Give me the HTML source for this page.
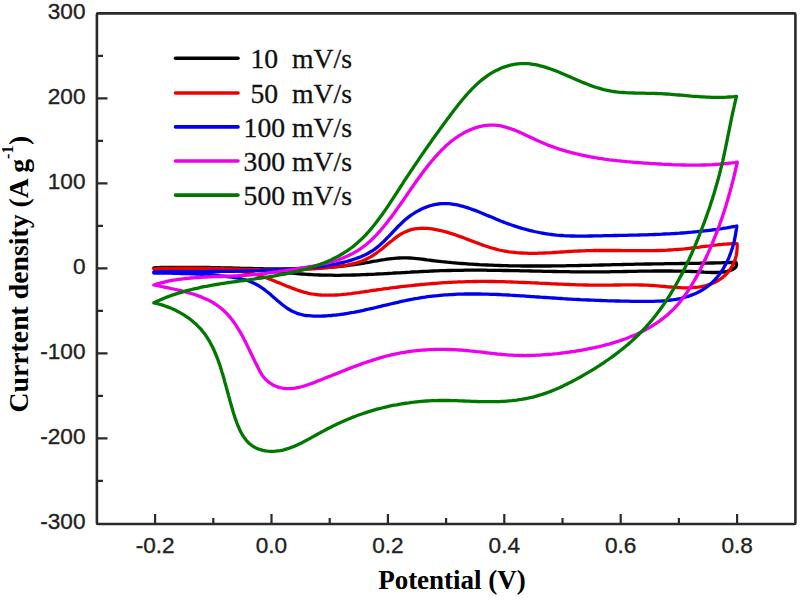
<!DOCTYPE html>
<html><head><meta charset="utf-8"><style>
html,body{margin:0;padding:0;background:#fff;width:800px;height:600px;overflow:hidden}
svg{display:block}
.tl{font-family:"Liberation Sans",sans-serif;font-size:22.6px;fill:#222;stroke:#222;stroke-width:0.35px}
.lg{font-family:"Liberation Serif",serif;font-size:27.7px;fill:#111;stroke:#111;stroke-width:0.3px}
.ax{font-family:"Liberation Serif",serif;font-size:27px;font-weight:bold;fill:#000}
</style></head><body>
<svg width="800" height="600" viewBox="0 0 800 600">
<rect width="800" height="600" fill="#fff"/>
<g fill="none" stroke-width="3.3" stroke-linejoin="round" stroke-linecap="round">
<path d="M153.8,267.8L156.3,267.7L158.8,267.6L161.3,267.5L163.8,267.5L166.3,267.4L168.8,267.4L171.3,267.3L173.9,267.3L176.4,267.3L178.9,267.3L181.4,267.3L183.9,267.3L186.4,267.3L188.9,267.3L191.5,267.3L194.0,267.3L196.5,267.3L199.0,267.4L201.5,267.4L204.0,267.4L206.5,267.5L209.1,267.5L211.6,267.6L214.1,267.6L216.6,267.7L219.1,267.7L221.6,267.8L224.1,267.9L226.7,267.9L229.2,268.0L231.7,268.0L234.2,268.1L236.7,268.2L239.2,268.2L241.7,268.3L244.3,268.4L246.8,268.4L249.3,268.5L251.8,268.5L254.3,268.6L256.8,268.6L259.3,268.7L261.9,268.7L264.4,268.8L266.9,268.8L269.4,268.8L271.9,268.9L274.4,268.9L276.9,268.9L279.5,268.9L282.0,268.9L284.5,268.9L287.0,268.9L289.5,268.9L292.0,268.9L294.5,268.8L297.1,268.8L299.6,268.8L302.1,268.7L304.6,268.6L307.1,268.6L309.6,268.5L312.1,268.4L314.6,268.3L317.2,268.1L319.7,268.0L322.2,267.8L324.7,267.7L327.2,267.5L329.7,267.3L332.2,267.1L334.7,266.9L337.2,266.7L339.7,266.4L342.2,266.1L344.7,265.9L347.2,265.6L349.7,265.2L352.2,264.9L354.7,264.6L357.2,264.2L359.7,263.8L362.1,263.4L364.6,263.0L367.1,262.5L369.6,262.1L372.1,261.6L374.5,261.2L377.0,260.8L379.5,260.3L382.0,259.9L384.4,259.6L386.9,259.2L389.4,258.9L391.9,258.6L394.4,258.4L396.9,258.2L399.4,258.0L402.0,257.9L404.5,257.9L407.0,257.9L409.5,258.0L412.0,258.2L414.5,258.4L417.0,258.6L419.5,258.9L422.0,259.2L424.5,259.5L427.0,259.9L429.5,260.2L432.0,260.5L434.5,260.8L437.0,261.1L439.5,261.4L442.0,261.7L444.5,261.9L447.0,262.2L449.5,262.4L452.0,262.7L454.5,262.9L457.0,263.1L459.5,263.3L462.0,263.5L464.5,263.7L467.0,263.9L469.5,264.1L472.0,264.2L474.6,264.4L477.1,264.5L479.6,264.7L482.1,264.8L484.6,264.9L487.1,265.0L489.6,265.1L492.1,265.2L494.6,265.3L497.2,265.4L499.7,265.5L502.2,265.6L504.7,265.7L507.2,265.7L509.7,265.8L512.2,265.8L514.8,265.9L517.3,265.9L519.8,265.9L522.3,266.0L524.8,266.0L527.3,266.0L529.8,266.0L532.4,266.0L534.9,266.0L537.4,266.0L539.9,266.0L542.4,266.0L544.9,266.0L547.4,266.0L550.0,266.0L552.5,265.9L555.0,265.9L557.5,265.9L560.0,265.9L562.5,265.8L565.0,265.8L567.6,265.7L570.1,265.7L572.6,265.7L575.1,265.6L577.6,265.6L580.1,265.5L582.6,265.4L585.2,265.4L587.7,265.3L590.2,265.3L592.7,265.2L595.2,265.2L597.7,265.1L600.2,265.0L602.8,265.0L605.3,264.9L607.8,264.9L610.3,264.8L612.8,264.7L615.3,264.7L617.8,264.6L620.4,264.6L622.9,264.5L625.4,264.4L627.9,264.4L630.4,264.3L632.9,264.3L635.4,264.2L638.0,264.2L640.5,264.1L643.0,264.1L645.5,264.0L648.0,264.0L650.5,264.0L653.0,263.9L655.5,263.9L658.1,263.8L660.6,263.8L663.1,263.8L665.6,263.7L668.1,263.7L670.6,263.7L673.1,263.6L675.7,263.6L678.2,263.6L680.7,263.5L683.2,263.5L685.7,263.4L688.2,263.4L690.7,263.4L693.3,263.3L695.8,263.3L698.3,263.3L700.8,263.2L703.3,263.2L705.8,263.1L708.3,263.1L710.9,263.0L713.4,263.0L715.9,262.9L718.4,262.9L720.9,262.8L723.4,262.7L725.9,262.7L728.5,262.6L731.0,262.5L733.5,262.5L736.0,262.4L736.0,262.4L736.6,264.8L735.8,267.2L733.9,268.8L731.7,269.9L729.3,270.7L726.9,271.4L724.4,271.8L721.9,272.2L719.4,272.4L716.9,272.5L714.4,272.5L711.8,272.5L709.3,272.4L706.8,272.3L704.3,272.2L701.8,272.0L699.3,271.9L696.8,271.7L694.3,271.6L691.7,271.5L689.2,271.4L686.7,271.3L684.2,271.3L681.7,271.2L679.2,271.1L676.7,271.1L674.1,271.1L671.6,271.0L669.1,271.0L666.6,271.0L664.1,271.0L661.6,271.0L659.0,271.0L656.5,271.0L654.0,271.0L651.5,271.1L649.0,271.1L646.5,271.1L644.0,271.2L641.4,271.2L638.9,271.2L636.4,271.3L633.9,271.3L631.4,271.4L628.9,271.4L626.3,271.5L623.8,271.5L621.3,271.6L618.8,271.6L616.3,271.7L613.8,271.7L611.2,271.7L608.7,271.8L606.2,271.8L603.7,271.8L601.2,271.9L598.7,271.9L596.2,271.9L593.6,271.9L591.1,271.9L588.6,271.9L586.1,271.9L583.6,271.9L581.1,271.9L578.5,271.8L576.0,271.8L573.5,271.8L571.0,271.8L568.5,271.7L566.0,271.7L563.5,271.7L560.9,271.6L558.4,271.6L555.9,271.5L553.4,271.5L550.9,271.4L548.4,271.4L545.8,271.3L543.3,271.3L540.8,271.2L538.3,271.2L535.8,271.1L533.3,271.1L530.8,271.0L528.2,270.9L525.7,270.9L523.2,270.8L520.7,270.8L518.2,270.7L515.7,270.7L513.1,270.6L510.6,270.6L508.1,270.5L505.6,270.5L503.1,270.5L500.6,270.4L498.1,270.4L495.5,270.3L493.0,270.3L490.5,270.3L488.0,270.3L485.5,270.2L483.0,270.2L480.4,270.2L477.9,270.2L475.4,270.2L472.9,270.2L470.4,270.2L467.9,270.2L465.3,270.2L462.8,270.3L460.3,270.3L457.8,270.3L455.3,270.4L452.8,270.4L450.3,270.5L447.7,270.5L445.2,270.6L442.7,270.7L440.2,270.7L437.7,270.8L435.2,270.9L432.6,271.0L430.1,271.1L427.6,271.3L425.1,271.4L422.6,271.5L420.1,271.6L417.6,271.8L415.1,271.9L412.5,272.0L410.0,272.2L407.5,272.3L405.0,272.5L402.5,272.6L400.0,272.8L397.5,272.9L395.0,273.0L392.5,273.2L389.9,273.3L387.4,273.5L384.9,273.6L382.4,273.8L379.9,273.9L377.4,274.0L374.9,274.2L372.4,274.3L369.8,274.4L367.3,274.5L364.8,274.6L362.3,274.7L359.8,274.8L357.3,274.9L354.8,275.0L352.2,275.0L349.7,275.1L347.2,275.2L344.7,275.2L342.2,275.2L339.7,275.3L337.2,275.3L334.6,275.3L332.1,275.2L329.6,275.2L327.1,275.2L324.6,275.1L322.1,275.1L319.5,275.0L317.0,274.9L314.5,274.8L312.0,274.6L309.5,274.5L307.0,274.4L304.5,274.2L302.0,274.0L299.5,273.8L296.9,273.6L294.4,273.4L291.9,273.2L289.4,273.0L286.9,272.8L284.4,272.5L281.9,272.3L279.4,272.1L276.9,271.8L274.4,271.6L271.9,271.4L269.4,271.2L266.9,270.9L264.4,270.7L261.9,270.5L259.4,270.3L256.8,270.1L254.3,269.9L251.8,269.7L249.3,269.5L246.8,269.4L244.3,269.2L241.8,269.1L239.3,269.0L236.8,268.9L234.2,268.8L231.7,268.7L229.2,268.6L226.7,268.6L224.2,268.5L221.7,268.5L219.2,268.5L216.6,268.5L214.1,268.4L211.6,268.4L209.1,268.4L206.6,268.4L204.1,268.5L201.5,268.5L199.0,268.5L196.5,268.5L194.0,268.5L191.5,268.5L189.0,268.5L186.4,268.5L183.9,268.5L181.4,268.5L178.9,268.5L176.4,268.5L173.9,268.4L171.3,268.4L168.8,268.4L166.3,268.3L163.8,268.2L161.3,268.1L158.8,268.0L156.3,267.9L153.8,267.8Z" stroke="#000000"/>
<path d="M153.8,269.0L156.3,268.9L158.8,268.7L161.3,268.6L163.8,268.5L166.3,268.4L168.8,268.4L171.3,268.3L173.8,268.3L176.3,268.2L178.9,268.2L181.4,268.2L183.9,268.2L186.4,268.2L188.9,268.2L191.4,268.2L193.9,268.2L196.4,268.2L199.0,268.2L201.5,268.3L204.0,268.3L206.5,268.4L209.0,268.4L211.5,268.5L214.0,268.5L216.5,268.6L219.0,268.7L221.6,268.7L224.1,268.8L226.6,268.9L229.1,269.0L231.6,269.0L234.1,269.1L236.6,269.2L239.1,269.2L241.6,269.3L244.2,269.4L246.7,269.4L249.2,269.5L251.7,269.6L254.2,269.6L256.7,269.7L259.2,269.7L261.7,269.8L264.2,269.8L266.8,269.8L269.3,269.9L271.8,269.9L274.3,269.9L276.8,269.9L279.3,269.9L281.8,269.9L284.3,269.9L286.9,269.8L289.4,269.8L291.9,269.7L294.4,269.7L296.9,269.6L299.4,269.5L301.9,269.4L304.4,269.3L306.9,269.2L309.5,269.1L312.0,268.9L314.5,268.8L317.0,268.6L319.5,268.4L322.0,268.2L324.5,267.9L327.0,267.7L329.5,267.4L332.0,267.2L334.5,266.9L337.0,266.6L339.5,266.2L341.9,265.9L344.4,265.5L346.9,265.1L349.4,264.6L351.8,264.0L354.3,263.4L356.7,262.8L359.1,262.0L361.4,261.2L363.8,260.3L366.1,259.2L368.3,258.1L370.5,256.9L372.7,255.6L374.8,254.2L376.8,252.8L378.8,251.3L380.8,249.7L382.8,248.2L384.7,246.6L386.6,244.9L388.6,243.3L390.5,241.7L392.5,240.2L394.5,238.6L396.5,237.1L398.5,235.7L400.6,234.3L402.8,233.1L405.1,231.9L407.4,230.9L409.7,230.1L412.2,229.4L414.6,228.9L417.1,228.6L419.6,228.3L422.1,228.2L424.6,228.3L427.1,228.4L429.6,228.6L432.1,228.9L434.6,229.3L437.1,229.8L439.5,230.3L442.0,230.9L444.4,231.5L446.8,232.2L449.2,232.9L451.6,233.6L454.0,234.4L456.4,235.2L458.8,236.1L461.1,236.9L463.5,237.8L465.8,238.7L468.2,239.6L470.5,240.5L472.9,241.4L475.2,242.3L477.6,243.1L479.9,244.0L482.3,244.9L484.7,245.7L487.0,246.5L489.4,247.3L491.8,248.0L494.3,248.7L496.7,249.4L499.1,250.0L501.6,250.5L504.0,251.0L506.5,251.4L509.0,251.8L511.5,252.1L514.0,252.4L516.5,252.7L519.0,252.9L521.5,253.0L524.0,253.1L526.5,253.2L529.0,253.3L531.5,253.3L534.0,253.3L536.6,253.3L539.1,253.2L541.6,253.1L544.1,253.0L546.6,252.9L549.1,252.8L551.6,252.7L554.1,252.5L556.6,252.4L559.1,252.2L561.6,252.0L564.2,251.9L566.7,251.7L569.2,251.5L571.7,251.4L574.2,251.2L576.7,251.1L579.2,251.0L581.7,250.9L584.2,250.8L586.7,250.7L589.2,250.6L591.8,250.6L594.3,250.5L596.8,250.5L599.3,250.5L601.8,250.5L604.3,250.5L606.8,250.5L609.3,250.5L611.8,250.5L614.4,250.5L616.9,250.5L619.4,250.5L621.9,250.6L624.4,250.6L626.9,250.6L629.4,250.6L631.9,250.7L634.5,250.7L637.0,250.7L639.5,250.7L642.0,250.7L644.5,250.7L647.0,250.7L649.5,250.7L652.0,250.6L654.6,250.6L657.1,250.5L659.6,250.5L662.1,250.4L664.6,250.3L667.1,250.2L669.6,250.0L672.1,249.9L674.6,249.7L677.1,249.5L679.6,249.3L682.1,249.1L684.6,248.9L687.1,248.6L689.6,248.3L692.1,248.0L694.6,247.7L697.1,247.4L699.6,247.1L702.1,246.7L704.6,246.4L707.1,246.1L709.6,245.8L712.1,245.4L714.6,245.1L717.1,244.9L719.6,244.6L722.1,244.4L724.6,244.1L727.1,244.0L729.6,243.8L732.1,243.7L734.6,243.6L737.1,243.6L737.1,243.6L737.2,246.1L737.1,248.6L736.9,251.1L736.6,253.6L736.1,256.1L735.4,258.5L734.6,260.9L733.6,263.2L732.5,265.5L731.3,267.7L729.9,269.8L728.4,271.8L726.7,273.7L724.9,275.5L723.0,277.1L721.0,278.6L718.9,280.0L716.8,281.3L714.5,282.4L712.2,283.4L709.9,284.3L707.5,285.1L705.0,285.8L702.6,286.3L700.1,286.8L697.6,287.2L695.1,287.4L692.6,287.7L690.1,287.8L687.6,287.8L685.1,287.8L682.6,287.8L680.0,287.7L677.5,287.6L675.0,287.4L672.5,287.2L670.0,287.0L667.5,286.8L665.0,286.5L662.5,286.3L660.0,286.1L657.5,285.9L655.0,285.7L652.4,285.5L649.9,285.4L647.4,285.2L644.9,285.1L642.4,285.0L639.9,285.0L637.4,284.9L634.8,284.9L632.3,284.9L629.8,284.9L627.3,284.9L624.8,284.9L622.3,284.9L619.7,285.0L617.2,285.0L614.7,285.0L612.2,285.1L609.7,285.1L607.2,285.1L604.6,285.1L602.1,285.1L599.6,285.1L597.1,285.1L594.6,285.1L592.1,285.1L589.5,285.1L587.0,285.0L584.5,285.0L582.0,284.9L579.5,284.8L577.0,284.8L574.4,284.7L571.9,284.6L569.4,284.5L566.9,284.4L564.4,284.3L561.9,284.2L559.3,284.1L556.8,284.0L554.3,283.9L551.8,283.8L549.3,283.6L546.8,283.5L544.3,283.4L541.8,283.3L539.2,283.2L536.7,283.0L534.2,282.9L531.7,282.8L529.2,282.7L526.7,282.6L524.2,282.5L521.6,282.4L519.1,282.3L516.6,282.2L514.1,282.1L511.6,282.0L509.1,281.9L506.5,281.8L504.0,281.7L501.5,281.7L499.0,281.6L496.5,281.6L494.0,281.5L491.4,281.5L488.9,281.5L486.4,281.4L483.9,281.4L481.4,281.4L478.9,281.4L476.3,281.5L473.8,281.5L471.3,281.6L468.8,281.6L466.3,281.7L463.8,281.8L461.3,281.8L458.7,281.9L456.2,282.1L453.7,282.2L451.2,282.3L448.7,282.4L446.2,282.6L443.7,282.7L441.1,282.9L438.6,283.1L436.1,283.3L433.6,283.5L431.1,283.7L428.6,283.9L426.1,284.1L423.6,284.3L421.1,284.5L418.6,284.8L416.1,285.0L413.6,285.3L411.1,285.6L408.6,285.8L406.1,286.1L403.6,286.4L401.1,286.7L398.6,287.0L396.1,287.3L393.6,287.6L391.1,287.9L388.6,288.3L386.1,288.6L383.6,288.9L381.1,289.3L378.6,289.6L376.1,290.0L373.6,290.3L371.1,290.7L368.6,291.1L366.1,291.4L363.7,291.8L361.2,292.2L358.7,292.6L356.2,292.9L353.7,293.2L351.2,293.6L348.7,293.9L346.2,294.2L343.7,294.4L341.2,294.7L338.7,294.9L336.2,295.0L333.7,295.1L331.1,295.2L328.6,295.2L326.1,295.2L323.6,295.1L321.1,295.0L318.6,294.8L316.1,294.5L313.6,294.2L311.1,293.8L308.6,293.3L306.2,292.7L303.7,292.1L301.3,291.4L298.9,290.6L296.5,289.8L294.2,288.9L291.8,288.1L289.5,287.1L287.1,286.2L284.8,285.2L282.5,284.3L280.2,283.3L277.8,282.4L275.5,281.4L273.2,280.5L270.8,279.5L268.5,278.6L266.1,277.8L263.7,277.0L261.3,276.2L258.9,275.5L256.5,274.8L254.1,274.2L251.6,273.6L249.2,273.1L246.7,272.6L244.2,272.1L241.7,271.7L239.2,271.4L236.7,271.1L234.2,270.8L231.7,270.5L229.2,270.3L226.7,270.1L224.2,270.0L221.7,269.8L219.2,269.7L216.7,269.6L214.1,269.5L211.6,269.5L209.1,269.5L206.6,269.4L204.1,269.4L201.6,269.4L199.0,269.4L196.5,269.5L194.0,269.5L191.5,269.5L189.0,269.5L186.5,269.6L183.9,269.6L181.4,269.6L178.9,269.6L176.4,269.6L173.9,269.6L171.4,269.6L168.8,269.6L166.3,269.5L163.8,269.5L161.3,269.4L158.8,269.3L156.3,269.2L153.8,269.0Z" stroke="#ee0000"/>
<path d="M153.8,271.8L156.3,271.8L158.8,271.8L161.3,271.7L163.8,271.7L166.3,271.7L168.8,271.7L171.3,271.7L173.8,271.7L176.4,271.7L178.9,271.7L181.4,271.7L183.9,271.6L186.4,271.6L188.9,271.6L191.4,271.6L193.9,271.6L196.5,271.6L199.0,271.6L201.5,271.6L204.0,271.6L206.5,271.6L209.0,271.5L211.5,271.5L214.0,271.5L216.6,271.5L219.1,271.5L221.6,271.4L224.1,271.4L226.6,271.4L229.1,271.3L231.6,271.3L234.1,271.3L236.7,271.2L239.2,271.2L241.7,271.1L244.2,271.1L246.7,271.0L249.2,270.9L251.7,270.9L254.2,270.8L256.7,270.7L259.3,270.6L261.8,270.5L264.3,270.4L266.8,270.3L269.3,270.2L271.8,270.1L274.3,270.0L276.8,269.9L279.3,269.8L281.8,269.6L284.3,269.5L286.9,269.3L289.4,269.2L291.9,269.0L294.4,268.8L296.9,268.6L299.4,268.5L301.9,268.3L304.4,268.1L306.9,267.8L309.4,267.6L311.9,267.4L314.4,267.1L316.9,266.8L319.4,266.5L321.9,266.2L324.4,265.9L326.9,265.5L329.3,265.1L331.8,264.7L334.3,264.2L336.8,263.8L339.2,263.2L341.7,262.7L344.1,262.1L346.5,261.5L349.0,260.8L351.4,260.1L353.8,259.3L356.1,258.5L358.5,257.6L360.8,256.7L363.1,255.7L365.4,254.7L367.7,253.5L369.8,252.3L372.0,251.0L374.1,249.6L376.1,248.1L378.1,246.5L380.0,244.9L381.8,243.2L383.7,241.5L385.5,239.7L387.2,237.9L389.0,236.1L390.7,234.3L392.4,232.5L394.2,230.7L395.9,228.8L397.6,227.0L399.4,225.3L401.2,223.5L403.0,221.8L404.9,220.1L406.8,218.5L408.8,216.9L410.8,215.4L412.9,214.0L415.0,212.6L417.1,211.4L419.4,210.2L421.6,209.0L423.9,208.0L426.2,207.1L428.6,206.2L431.0,205.5L433.4,204.9L435.9,204.3L438.4,204.0L440.9,203.7L443.4,203.6L445.9,203.6L448.4,203.7L450.9,203.9L453.4,204.3L455.9,204.7L458.3,205.2L460.8,205.8L463.2,206.4L465.6,207.2L468.0,207.9L470.4,208.7L472.7,209.6L475.1,210.4L477.4,211.3L479.8,212.3L482.1,213.2L484.4,214.2L486.7,215.2L489.0,216.1L491.4,217.1L493.7,218.1L496.0,219.1L498.3,220.0L500.6,221.0L503.0,221.9L505.3,222.8L507.7,223.6L510.1,224.5L512.4,225.3L514.8,226.1L517.2,226.9L519.6,227.6L522.0,228.3L524.4,229.0L526.9,229.7L529.3,230.3L531.7,230.9L534.2,231.5L536.6,232.0L539.1,232.5L541.6,233.0L544.0,233.4L546.5,233.8L549.0,234.2L551.5,234.5L554.0,234.8L556.5,235.1L559.0,235.3L561.5,235.5L564.0,235.7L566.5,235.8L569.0,235.9L571.5,236.0L574.0,236.0L576.6,236.1L579.1,236.1L581.6,236.1L584.1,236.1L586.6,236.1L589.1,236.0L591.6,236.0L594.1,235.9L596.6,235.9L599.2,235.8L601.7,235.8L604.2,235.7L606.7,235.7L609.2,235.6L611.7,235.6L614.2,235.5L616.7,235.5L619.3,235.4L621.8,235.4L624.3,235.3L626.8,235.3L629.3,235.2L631.8,235.2L634.3,235.1L636.8,235.1L639.3,235.0L641.9,234.9L644.4,234.8L646.9,234.8L649.4,234.7L651.9,234.6L654.4,234.5L656.9,234.4L659.4,234.3L661.9,234.2L664.5,234.0L667.0,233.9L669.5,233.8L672.0,233.6L674.5,233.5L677.0,233.3L679.5,233.2L682.0,233.0L684.5,232.8L687.0,232.6L689.5,232.4L692.0,232.2L694.5,231.9L697.0,231.7L699.5,231.4L702.0,231.2L704.5,230.9L707.0,230.6L709.5,230.3L712.0,230.0L714.5,229.6L717.0,229.3L719.5,228.9L721.9,228.6L724.4,228.2L726.9,227.8L729.4,227.3L731.9,226.9L734.3,226.5L736.8,226.0L736.8,226.0L736.5,228.5L736.1,231.0L735.7,233.5L735.3,235.9L734.8,238.4L734.3,240.9L733.7,243.3L733.0,245.7L732.3,248.2L731.5,250.6L730.7,252.9L729.8,255.3L728.9,257.6L727.9,259.9L726.8,262.2L725.6,264.4L724.4,266.6L723.2,268.8L721.8,270.9L720.4,273.0L718.9,275.0L717.3,277.0L715.7,278.9L714.0,280.8L712.2,282.5L710.3,284.2L708.4,285.8L706.4,287.3L704.3,288.7L702.1,290.1L700.0,291.3L697.7,292.5L695.5,293.5L693.1,294.5L690.8,295.4L688.4,296.3L686.0,297.0L683.6,297.7L681.2,298.3L678.7,298.8L676.2,299.3L673.7,299.7L671.2,300.0L668.7,300.3L666.2,300.6L663.7,300.8L661.2,301.0L658.7,301.1L656.2,301.2L653.7,301.3L651.2,301.3L648.7,301.4L646.1,301.4L643.6,301.4L641.1,301.4L638.6,301.3L636.1,301.3L633.6,301.3L631.0,301.3L628.5,301.2L626.0,301.2L623.5,301.1L621.0,301.1L618.5,301.0L615.9,301.0L613.4,300.9L610.9,300.8L608.4,300.8L605.9,300.7L603.4,300.6L600.9,300.5L598.3,300.4L595.8,300.3L593.3,300.2L590.8,300.1L588.3,300.0L585.8,299.9L583.3,299.8L580.7,299.7L578.2,299.5L575.7,299.4L573.2,299.3L570.7,299.1L568.2,299.0L565.7,298.8L563.2,298.7L560.7,298.5L558.1,298.4L555.6,298.2L553.1,298.0L550.6,297.9L548.1,297.7L545.6,297.5L543.1,297.3L540.6,297.2L538.1,297.0L535.5,296.8L533.0,296.6L530.5,296.5L528.0,296.3L525.5,296.1L523.0,295.9L520.5,295.8L518.0,295.6L515.5,295.5L513.0,295.3L510.4,295.2L507.9,295.0L505.4,294.9L502.9,294.8L500.4,294.6L497.9,294.5L495.4,294.4L492.9,294.3L490.3,294.3L487.8,294.2L485.3,294.1L482.8,294.1L480.3,294.0L477.8,294.0L475.2,294.0L472.7,294.0L470.2,294.0L467.7,294.0L465.2,294.0L462.7,294.1L460.1,294.2L457.6,294.2L455.1,294.3L452.6,294.5L450.1,294.6L447.6,294.8L445.1,294.9L442.6,295.1L440.1,295.3L437.6,295.6L435.0,295.8L432.5,296.1L430.1,296.4L427.6,296.7L425.1,297.1L422.6,297.4L420.1,297.8L417.6,298.3L415.1,298.7L412.7,299.2L410.2,299.6L407.7,300.1L405.3,300.7L402.8,301.2L400.3,301.7L397.9,302.3L395.4,302.8L393.0,303.4L390.5,304.0L388.1,304.6L385.6,305.2L383.2,305.7L380.7,306.3L378.3,306.9L375.9,307.5L373.4,308.1L371.0,308.6L368.5,309.2L366.0,309.7L363.6,310.3L361.1,310.8L358.7,311.3L356.2,311.8L353.7,312.3L351.2,312.7L348.8,313.2L346.3,313.6L343.8,314.0L341.3,314.3L338.8,314.7L336.3,315.0L333.8,315.2L331.3,315.5L328.8,315.7L326.3,315.9L323.8,316.0L321.3,316.1L318.8,316.1L316.2,316.1L313.7,316.1L311.2,315.9L308.7,315.7L306.2,315.5L303.7,315.1L301.3,314.5L298.8,313.9L296.4,313.1L294.1,312.1L291.8,311.0L289.7,309.8L287.5,308.5L285.5,307.0L283.5,305.5L281.5,304.0L279.5,302.3L277.6,300.7L275.7,299.1L273.8,297.4L271.9,295.8L270.0,294.1L268.1,292.5L266.1,291.0L264.1,289.4L262.1,288.0L260.0,286.6L257.8,285.2L255.6,284.0L253.4,282.9L251.1,281.9L248.7,281.0L246.3,280.2L243.9,279.5L241.5,278.9L239.0,278.4L236.6,277.9L234.1,277.5L231.6,277.1L229.1,276.8L226.6,276.5L224.1,276.2L221.6,275.9L219.1,275.7L216.6,275.4L214.1,275.2L211.6,275.0L209.1,274.8L206.6,274.6L204.0,274.5L201.5,274.3L199.0,274.2L196.5,274.0L194.0,273.9L191.5,273.8L189.0,273.7L186.5,273.6L183.9,273.5L181.4,273.5L178.9,273.4L176.4,273.3L173.9,273.3L171.4,273.2L168.8,273.2L166.3,273.1L163.8,273.1L161.3,273.1L158.8,273.0L156.3,273.0L153.8,273.0Z" stroke="#0000ee"/>
<path d="M153.8,285.0L156.1,284.2L158.6,283.5L161.0,282.9L163.4,282.3L165.9,281.7L168.3,281.2L170.8,280.7L173.3,280.2L175.8,279.8L178.3,279.4L180.7,279.1L183.2,278.8L185.7,278.5L188.2,278.3L190.7,278.0L193.3,277.8L195.8,277.6L198.3,277.5L200.8,277.3L203.3,277.2L205.8,277.0L208.3,276.9L210.8,276.8L213.4,276.7L215.9,276.6L218.4,276.6L220.9,276.5L223.4,276.4L225.9,276.3L228.4,276.2L230.9,276.1L233.5,276.0L236.0,275.9L238.5,275.7L241.0,275.6L243.5,275.4L246.0,275.3L248.5,275.1L251.0,274.9L253.5,274.6L256.0,274.4L258.5,274.1L261.0,273.8L263.5,273.6L266.0,273.3L268.5,272.9L271.0,272.6L273.5,272.3L276.0,271.9L278.5,271.6L281.0,271.2L283.5,270.9L286.0,270.5L288.5,270.1L290.9,269.7L293.4,269.3L295.9,268.9L298.4,268.5L300.9,268.1L303.4,267.7L305.8,267.3L308.3,266.9L310.8,266.5L313.3,266.0L315.8,265.6L318.2,265.1L320.7,264.6L323.1,264.0L325.6,263.4L328.0,262.8L330.5,262.2L332.9,261.5L335.3,260.8L337.7,260.0L340.0,259.1L342.4,258.2L344.7,257.3L347.0,256.3L349.3,255.2L351.6,254.1L353.8,252.9L356.0,251.6L358.1,250.3L360.2,249.0L362.3,247.5L364.3,246.0L366.3,244.5L368.2,242.8L370.1,241.2L371.9,239.5L373.7,237.7L375.5,235.9L377.2,234.1L378.9,232.2L380.6,230.3L382.2,228.4L383.8,226.5L385.4,224.5L387.0,222.6L388.5,220.6L390.0,218.6L391.6,216.6L393.1,214.6L394.6,212.5L396.0,210.5L397.5,208.4L398.9,206.4L400.4,204.3L401.8,202.3L403.3,200.2L404.7,198.1L406.1,196.1L407.5,194.0L409.0,191.9L410.4,189.8L411.8,187.8L413.3,185.7L414.7,183.6L416.1,181.6L417.6,179.5L419.1,177.5L420.6,175.5L422.0,173.4L423.5,171.4L425.1,169.4L426.6,167.4L428.2,165.4L429.7,163.5L431.3,161.5L433.0,159.6L434.6,157.7L436.3,155.8L438.0,154.0L439.7,152.1L441.4,150.3L443.2,148.6L445.0,146.8L446.9,145.1L448.8,143.5L450.7,141.8L452.7,140.3L454.7,138.8L456.7,137.3L458.8,135.9L461.0,134.6L463.1,133.3L465.3,132.1L467.6,131.0L469.9,130.0L472.2,129.0L474.6,128.1L477.0,127.4L479.4,126.7L481.9,126.2L484.3,125.7L486.8,125.4L489.3,125.2L491.9,125.1L494.4,125.2L496.9,125.4L499.4,125.7L501.8,126.2L504.3,126.8L506.7,127.4L509.1,128.2L511.5,129.0L513.9,129.9L516.2,130.8L518.5,131.8L520.8,132.8L523.1,133.8L525.4,134.9L527.7,135.9L529.9,137.0L532.2,138.1L534.5,139.2L536.8,140.2L539.1,141.3L541.4,142.3L543.7,143.3L546.0,144.2L548.3,145.2L550.7,146.0L553.1,146.9L555.4,147.7L557.8,148.6L560.2,149.3L562.6,150.1L565.0,150.8L567.4,151.5L569.9,152.2L572.3,152.8L574.7,153.4L577.2,154.0L579.6,154.6L582.1,155.2L584.5,155.7L587.0,156.2L589.5,156.7L591.9,157.1L594.4,157.5L596.9,158.0L599.4,158.4L601.9,158.7L604.4,159.1L606.9,159.4L609.4,159.8L611.8,160.1L614.3,160.4L616.8,160.7L619.3,160.9L621.9,161.2L624.4,161.4L626.9,161.7L629.4,161.9L631.9,162.1L634.4,162.3L636.9,162.5L639.4,162.7L641.9,162.9L644.4,163.1L646.9,163.2L649.4,163.4L651.9,163.6L654.5,163.7L657.0,163.9L659.5,164.0L662.0,164.2L664.5,164.3L667.0,164.4L669.5,164.5L672.0,164.7L674.6,164.8L677.1,164.8L679.6,164.9L682.1,165.0L684.6,165.0L687.1,165.1L689.6,165.1L692.2,165.1L694.7,165.1L697.2,165.1L699.7,165.1L702.2,165.0L704.7,165.0L707.2,164.9L709.8,164.8L712.3,164.7L714.8,164.5L717.3,164.4L719.8,164.2L722.3,164.0L724.8,163.7L727.3,163.5L729.8,163.2L732.3,162.9L734.8,162.6L737.3,162.2L737.3,162.2L736.8,164.7L736.2,167.1L735.6,169.5L735.1,172.0L734.5,174.4L733.9,176.9L733.3,179.3L732.7,181.7L732.0,184.2L731.4,186.6L730.7,189.0L730.1,191.5L729.4,193.9L728.7,196.3L728.0,198.7L727.3,201.1L726.6,203.5L725.9,205.9L725.1,208.3L724.4,210.7L723.6,213.1L722.8,215.5L722.0,217.9L721.2,220.2L720.3,222.6L719.5,225.0L718.6,227.3L717.7,229.7L716.9,232.0L715.9,234.4L715.0,236.7L714.1,239.0L713.1,241.3L712.2,243.7L711.2,246.0L710.2,248.3L709.2,250.6L708.2,252.9L707.1,255.2L706.1,257.4L705.0,259.7L703.9,262.0L702.8,264.2L701.7,266.5L700.6,268.8L699.5,271.0L698.3,273.2L697.2,275.4L696.0,277.6L694.7,279.8L693.5,282.0L692.2,284.2L690.9,286.3L689.6,288.5L688.2,290.6L686.8,292.7L685.4,294.7L683.9,296.8L682.4,298.8L680.9,300.8L679.3,302.7L677.7,304.6L676.0,306.5L674.3,308.3L672.5,310.1L670.7,311.8L668.9,313.5L667.0,315.2L665.0,316.8L663.1,318.4L661.1,319.9L659.1,321.4L657.0,322.8L654.9,324.2L652.8,325.5L650.6,326.9L648.5,328.1L646.3,329.3L644.1,330.5L641.8,331.7L639.6,332.8L637.3,333.9L635.0,334.9L632.7,335.9L630.4,336.8L628.1,337.8L625.7,338.7L623.4,339.5L621.0,340.4L618.6,341.2L616.2,341.9L613.8,342.7L611.4,343.4L609.0,344.1L606.6,344.7L604.1,345.4L601.7,346.0L599.3,346.6L596.8,347.1L594.4,347.7L591.9,348.2L589.4,348.7L587.0,349.2L584.5,349.6L582.0,350.1L579.6,350.5L577.1,350.9L574.6,351.3L572.1,351.6L569.6,352.0L567.2,352.3L564.7,352.7L562.2,353.0L559.7,353.3L557.2,353.6L554.7,353.8L552.2,354.1L549.7,354.3L547.2,354.5L544.7,354.7L542.2,354.9L539.7,355.1L537.2,355.2L534.7,355.3L532.1,355.4L529.6,355.5L527.1,355.5L524.6,355.6L522.1,355.5L519.6,355.5L517.1,355.4L514.6,355.3L512.1,355.2L509.6,355.1L507.1,354.9L504.6,354.7L502.1,354.5L499.6,354.2L497.1,354.0L494.6,353.7L492.1,353.4L489.6,353.1L487.1,352.8L484.6,352.5L482.1,352.2L479.6,351.9L477.1,351.7L474.6,351.4L472.1,351.1L469.6,350.9L467.1,350.6L464.6,350.4L462.1,350.2L459.6,350.0L457.1,349.9L454.6,349.7L452.1,349.6L449.6,349.5L447.1,349.5L444.6,349.4L442.0,349.4L439.5,349.4L437.0,349.4L434.5,349.5L432.0,349.6L429.5,349.7L427.0,349.8L424.5,350.0L422.0,350.2L419.5,350.4L417.0,350.6L414.5,350.9L412.0,351.2L409.5,351.5L407.0,351.9L404.5,352.3L402.1,352.7L399.6,353.1L397.1,353.6L394.7,354.2L392.2,354.7L389.8,355.3L387.3,355.9L384.9,356.5L382.5,357.2L380.1,357.9L377.7,358.6L375.3,359.3L372.9,360.1L370.5,360.9L368.1,361.6L365.7,362.5L363.3,363.3L361.0,364.1L358.6,365.0L356.3,365.9L353.9,366.7L351.6,367.6L349.2,368.5L346.9,369.4L344.5,370.4L342.2,371.3L339.9,372.2L337.5,373.2L335.2,374.1L332.9,375.0L330.6,376.0L328.2,376.9L325.9,377.8L323.6,378.8L321.2,379.7L318.9,380.6L316.6,381.6L314.2,382.5L311.9,383.4L309.5,384.2L307.1,385.0L304.7,385.8L302.3,386.5L299.9,387.1L297.5,387.6L295.0,388.1L292.5,388.4L290.0,388.6L287.5,388.6L285.0,388.4L282.5,388.1L280.0,387.6L277.6,386.9L275.3,386.0L273.0,384.9L270.9,383.6L268.8,382.2L266.9,380.6L265.1,378.8L263.4,376.9L262.0,374.8L260.7,372.7L259.5,370.5L258.3,368.3L257.2,366.0L256.1,363.8L254.9,361.5L253.9,359.3L252.8,357.0L251.7,354.7L250.6,352.5L249.5,350.2L248.4,347.9L247.3,345.7L246.2,343.4L245.1,341.2L243.9,339.0L242.8,336.7L241.5,334.5L240.3,332.4L239.0,330.2L237.7,328.1L236.4,325.9L235.0,323.9L233.5,321.8L232.0,319.8L230.5,317.8L228.8,315.9L227.2,314.0L225.4,312.2L223.6,310.5L221.7,308.8L219.8,307.3L217.8,305.8L215.7,304.3L213.6,303.0L211.4,301.7L209.2,300.6L206.9,299.4L204.6,298.4L202.3,297.4L200.0,296.5L197.6,295.6L195.3,294.8L192.9,294.0L190.5,293.3L188.1,292.6L185.7,291.9L183.2,291.3L180.8,290.6L178.3,290.1L175.9,289.5L173.4,289.0L171.0,288.5L168.5,287.9L166.1,287.4L163.6,287.0L161.1,286.5L158.7,286.0L156.2,285.5L153.8,285.0Z" stroke="#ee00ee"/>
<path d="M153.8,302.8L156.0,301.7L158.3,300.7L160.6,299.7L162.9,298.7L165.3,297.8L167.6,296.9L170.0,296.0L172.3,295.1L174.7,294.3L177.1,293.6L179.5,292.8L181.9,292.1L184.3,291.4L186.8,290.7L189.2,290.1L191.6,289.5L194.1,288.9L196.5,288.3L199.0,287.8L201.4,287.2L203.9,286.7L206.4,286.3L208.8,285.8L211.3,285.3L213.8,284.9L216.3,284.5L218.8,284.1L221.2,283.7L223.7,283.3L226.2,282.9L228.7,282.5L231.2,282.2L233.7,281.8L236.2,281.5L238.7,281.1L241.1,280.8L243.6,280.5L246.1,280.1L248.6,279.8L251.1,279.4L253.6,279.1L256.1,278.7L258.6,278.4L261.1,278.0L263.6,277.6L266.0,277.2L268.5,276.9L271.0,276.5L273.5,276.1L276.0,275.6L278.4,275.2L280.9,274.7L283.4,274.3L285.9,273.8L288.3,273.3L290.8,272.8L293.2,272.2L295.7,271.6L298.1,271.1L300.6,270.4L303.0,269.8L305.4,269.1L307.8,268.4L310.2,267.7L312.6,267.0L315.0,266.2L317.4,265.4L319.8,264.5L322.1,263.6L324.5,262.7L326.8,261.7L329.1,260.7L331.4,259.7L333.6,258.6L335.9,257.4L338.1,256.3L340.3,255.0L342.5,253.8L344.6,252.4L346.7,251.1L348.8,249.7L350.8,248.2L352.8,246.7L354.8,245.1L356.7,243.5L358.6,241.8L360.5,240.1L362.3,238.4L364.0,236.6L365.8,234.8L367.5,232.9L369.2,231.1L370.8,229.1L372.4,227.2L374.0,225.3L375.6,223.3L377.1,221.3L378.6,219.3L380.1,217.3L381.6,215.3L383.1,213.2L384.5,211.1L385.9,209.1L387.4,207.0L388.8,204.9L390.1,202.8L391.5,200.7L392.9,198.6L394.3,196.5L395.6,194.4L397.0,192.3L398.4,190.2L399.7,188.1L401.1,185.9L402.5,183.8L403.8,181.7L405.2,179.6L406.6,177.5L408.0,175.4L409.4,173.3L410.8,171.2L412.2,169.1L413.6,167.0L415.0,165.0L416.4,162.9L417.8,160.8L419.2,158.7L420.6,156.6L422.0,154.6L423.5,152.5L424.9,150.4L426.3,148.4L427.8,146.3L429.2,144.3L430.7,142.2L432.1,140.1L433.6,138.1L435.0,136.0L436.5,134.0L438.0,132.0L439.5,129.9L440.9,127.9L442.4,125.9L443.9,123.8L445.4,121.8L446.9,119.8L448.4,117.8L449.9,115.8L451.4,113.7L452.9,111.7L454.4,109.7L456.0,107.7L457.5,105.8L459.1,103.8L460.7,101.8L462.2,99.9L463.9,98.0L465.5,96.0L467.2,94.2L468.8,92.3L470.6,90.5L472.3,88.6L474.1,86.9L475.9,85.1L477.7,83.4L479.6,81.8L481.6,80.1L483.5,78.6L485.5,77.1L487.6,75.6L489.7,74.2L491.8,72.9L494.0,71.6L496.2,70.5L498.5,69.4L500.8,68.3L503.1,67.4L505.5,66.6L507.9,65.9L510.3,65.2L512.8,64.7L515.3,64.2L517.7,63.9L520.3,63.7L522.8,63.6L525.3,63.6L527.8,63.7L530.3,63.9L532.8,64.3L535.3,64.7L537.7,65.2L540.2,65.8L542.6,66.4L545.0,67.1L547.4,67.9L549.8,68.7L552.2,69.5L554.5,70.4L556.9,71.3L559.2,72.2L561.5,73.2L563.8,74.2L566.2,75.2L568.5,76.2L570.8,77.2L573.1,78.2L575.4,79.2L577.7,80.2L580.0,81.2L582.3,82.2L584.6,83.1L587.0,84.1L589.3,85.0L591.7,85.9L594.0,86.7L596.4,87.5L598.8,88.2L601.2,88.9L603.7,89.6L606.1,90.1L608.6,90.6L611.1,91.1L613.5,91.5L616.0,91.8L618.5,92.1L621.0,92.3L623.5,92.5L626.1,92.7L628.6,92.8L631.1,92.9L633.6,93.0L636.1,93.1L638.6,93.1L641.1,93.2L643.6,93.2L646.2,93.3L648.7,93.3L651.2,93.3L653.7,93.4L656.2,93.5L658.7,93.6L661.2,93.7L663.7,93.8L666.3,94.0L668.8,94.2L671.3,94.4L673.8,94.6L676.3,94.8L678.8,95.0L681.3,95.2L683.8,95.4L686.3,95.6L688.8,95.8L691.3,96.1L693.8,96.3L696.3,96.4L698.8,96.6L701.4,96.8L703.9,96.9L706.4,97.1L708.9,97.2L711.4,97.3L713.9,97.3L716.4,97.4L718.9,97.4L721.5,97.3L724.0,97.3L726.5,97.2L729.0,97.0L731.5,96.8L734.0,96.6L736.5,96.3L736.5,96.5L735.9,98.9L735.3,101.4L734.7,103.8L734.2,106.3L733.6,108.7L733.1,111.2L732.5,113.6L732.0,116.1L731.5,118.5L731.0,121.0L730.5,123.4L730.0,125.9L729.5,128.4L729.0,130.8L728.5,133.3L728.0,135.7L727.5,138.2L727.0,140.7L726.5,143.1L726.0,145.6L725.5,148.0L725.0,150.5L724.5,153.0L723.9,155.4L723.4,157.9L722.9,160.3L722.3,162.8L721.7,165.2L721.1,167.6L720.5,170.1L719.9,172.5L719.3,174.9L718.6,177.4L718.0,179.8L717.3,182.2L716.6,184.6L715.9,187.0L715.2,189.4L714.5,191.9L713.8,194.3L713.0,196.6L712.3,199.0L711.5,201.4L710.7,203.8L710.0,206.2L709.2,208.6L708.3,211.0L707.5,213.3L706.7,215.7L705.8,218.1L705.0,220.4L704.1,222.8L703.2,225.1L702.3,227.5L701.4,229.8L700.5,232.2L699.6,234.5L698.7,236.8L697.8,239.1L696.8,241.5L695.8,243.8L694.9,246.1L693.9,248.4L692.9,250.7L691.9,253.0L690.9,255.3L689.8,257.6L688.8,259.9L687.7,262.1L686.6,264.4L685.5,266.7L684.4,268.9L683.3,271.2L682.2,273.4L681.0,275.6L679.8,277.8L678.6,280.1L677.4,282.3L676.2,284.4L674.9,286.6L673.7,288.8L672.4,290.9L671.1,293.1L669.8,295.2L668.4,297.3L667.1,299.4L665.7,301.5L664.3,303.6L662.8,305.7L661.4,307.7L659.9,309.8L658.4,311.8L656.9,313.8L655.4,315.8L653.8,317.7L652.2,319.7L650.6,321.6L649.0,323.5L647.3,325.4L645.6,327.3L643.9,329.1L642.2,330.9L640.5,332.7L638.7,334.5L636.9,336.3L635.1,338.0L633.2,339.7L631.4,341.4L629.5,343.0L627.6,344.7L625.7,346.3L623.7,347.9L621.8,349.5L619.8,351.0L617.8,352.6L615.8,354.1L613.8,355.6L611.8,357.1L609.8,358.5L607.7,360.0L605.6,361.4L603.6,362.8L601.5,364.2L599.4,365.6L597.3,366.9L595.1,368.3L593.0,369.6L590.9,370.9L588.7,372.2L586.5,373.4L584.4,374.7L582.2,376.0L580.0,377.2L577.8,378.4L575.6,379.6L573.4,380.8L571.2,382.0L568.9,383.1L566.7,384.2L564.4,385.3L562.2,386.4L559.9,387.5L557.6,388.5L555.3,389.5L553.0,390.4L550.6,391.4L548.3,392.2L545.9,393.1L543.6,393.9L541.2,394.7L538.8,395.4L536.4,396.1L533.9,396.8L531.5,397.4L529.1,397.9L526.6,398.5L524.1,398.9L521.7,399.4L519.2,399.7L516.7,400.1L514.2,400.4L511.7,400.7L509.2,400.9L506.7,401.1L504.2,401.3L501.7,401.4L499.2,401.6L496.7,401.6L494.2,401.7L491.7,401.7L489.2,401.7L486.6,401.7L484.1,401.7L481.6,401.6L479.1,401.6L476.6,401.5L474.1,401.4L471.6,401.3L469.1,401.2L466.6,401.1L464.1,401.0L461.6,400.9L459.1,400.8L456.5,400.7L454.0,400.6L451.5,400.6L449.0,400.5L446.5,400.5L444.0,400.5L441.5,400.5L439.0,400.5L436.5,400.6L434.0,400.6L431.5,400.7L428.9,400.9L426.4,401.0L423.9,401.2L421.4,401.4L418.9,401.6L416.4,401.9L413.9,402.2L411.5,402.4L409.0,402.8L406.5,403.1L404.0,403.5L401.5,403.9L399.0,404.3L396.6,404.8L394.1,405.2L391.6,405.7L389.2,406.2L386.7,406.8L384.3,407.4L381.9,408.0L379.4,408.6L377.0,409.2L374.6,409.9L372.2,410.6L369.8,411.3L367.4,412.1L365.0,412.9L362.6,413.7L360.2,414.5L357.9,415.3L355.5,416.2L353.2,417.1L350.9,418.1L348.5,419.0L346.2,420.0L343.9,421.0L341.6,422.0L339.3,423.0L337.1,424.1L334.8,425.2L332.5,426.3L330.3,427.4L328.1,428.5L325.8,429.7L323.6,430.9L321.4,432.0L319.2,433.3L317.0,434.5L314.8,435.7L312.6,436.9L310.4,438.2L308.2,439.4L306.0,440.6L303.8,441.7L301.6,442.9L299.3,444.0L297.1,445.1L294.8,446.1L292.4,447.0L290.1,447.9L287.7,448.7L285.3,449.4L282.9,450.1L280.4,450.6L277.9,450.9L275.4,451.2L272.9,451.3L270.4,451.3L267.9,451.1L265.4,450.8L263.0,450.3L260.5,449.7L258.2,448.9L255.9,447.9L253.7,446.7L251.6,445.3L249.6,443.7L247.8,442.0L246.1,440.1L244.6,438.1L243.2,436.1L241.9,433.9L240.7,431.7L239.6,429.5L238.6,427.2L237.6,424.8L236.7,422.5L235.9,420.1L235.0,417.8L234.3,415.4L233.5,413.0L232.8,410.6L232.1,408.2L231.4,405.8L230.7,403.3L230.0,400.9L229.4,398.5L228.7,396.1L228.1,393.7L227.4,391.2L226.7,388.8L226.1,386.4L225.4,384.0L224.7,381.6L224.1,379.1L223.4,376.7L222.7,374.3L221.9,371.9L221.2,369.5L220.4,367.1L219.7,364.7L218.8,362.4L218.0,360.0L217.1,357.7L216.2,355.3L215.2,353.0L214.2,350.7L213.2,348.4L212.1,346.2L210.9,343.9L209.7,341.7L208.4,339.6L207.1,337.5L205.7,335.4L204.2,333.3L202.7,331.4L201.1,329.4L199.4,327.6L197.6,325.8L195.8,324.0L194.0,322.4L192.0,320.7L190.1,319.2L188.0,317.7L186.0,316.3L183.9,314.9L181.7,313.6L179.5,312.4L177.3,311.2L175.1,310.1L172.8,309.0L170.5,308.0L168.2,307.1L165.8,306.2L163.4,305.4L161.0,304.7L158.6,304.0L156.2,303.4L153.8,302.8Z" stroke="#007800"/>
</g>
<rect x="96.9" y="13.4" width="698.5" height="510.6" fill="none" stroke="#2a2a2a" stroke-width="2.6" rx="1"/>
<path d="M155.1,524V514 M271.5,524V514 M387.9,524V514 M504.3,524V514 M620.7,524V514 M737.1,524V514 M213.3,524V518 M329.7,524V518 M446.1,524V518 M562.5,524V518 M678.9,524V518 M97,438.4H107.5 M97,353.4H107.5 M97,268.4H107.5 M97,183.4H107.5 M97,98.4H107.5 M97,480.9H103 M97,395.9H103 M97,310.9H103 M97,225.9H103 M97,140.9H103 M97,55.9H103" stroke="#2a2a2a" stroke-width="2.2" fill="none"/>
<g class="tl"><text x="155.1" y="552.6" text-anchor="middle">-0.2</text><text x="271.5" y="552.6" text-anchor="middle">0.0</text><text x="387.9" y="552.6" text-anchor="middle">0.2</text><text x="504.3" y="552.6" text-anchor="middle">0.4</text><text x="620.7" y="552.6" text-anchor="middle">0.6</text><text x="737.1" y="552.6" text-anchor="middle">0.8</text><text x="85.5" y="528.9" text-anchor="end">-300</text><text x="85.5" y="443.9" text-anchor="end">-200</text><text x="85.5" y="358.9" text-anchor="end">-100</text><text x="85.5" y="273.9" text-anchor="end">0</text><text x="85.5" y="188.9" text-anchor="end">100</text><text x="85.5" y="103.9" text-anchor="end">200</text><text x="85.5" y="18.9" text-anchor="end">300</text></g>
<g stroke-width="3.6" stroke-linecap="round"><line x1="175.5" y1="58.3" x2="238" y2="58.3" stroke="#000"/><line x1="175.5" y1="93.0" x2="238" y2="93.0" stroke="#ee0000"/><line x1="175.5" y1="126.9" x2="238" y2="126.9" stroke="#0000ee"/><line x1="175.5" y1="161.0" x2="238" y2="161.0" stroke="#ee00ee"/><line x1="175.5" y1="195.1" x2="238" y2="195.1" stroke="#007800"/></g>
<g class="lg"><text x="352" y="67.9" text-anchor="end">10&#160; mV/s</text><text x="352" y="102.6" text-anchor="end">50&#160; mV/s</text><text x="352" y="136.5" text-anchor="end">100 mV/s</text><text x="352" y="170.6" text-anchor="end">300 mV/s</text><text x="352" y="204.7" text-anchor="end">500 mV/s</text></g>
<text class="ax" x="452" y="589" text-anchor="middle">Potential (V)</text>
<text class="ax" style="font-size:27.75px" transform="translate(28,412.5) rotate(-90)">Currtent density (A g<tspan dx="0" dy="-15" style="font-size:16px">-1</tspan><tspan dx="0.6" dy="15">)</tspan></text>
</svg>
</body></html>
